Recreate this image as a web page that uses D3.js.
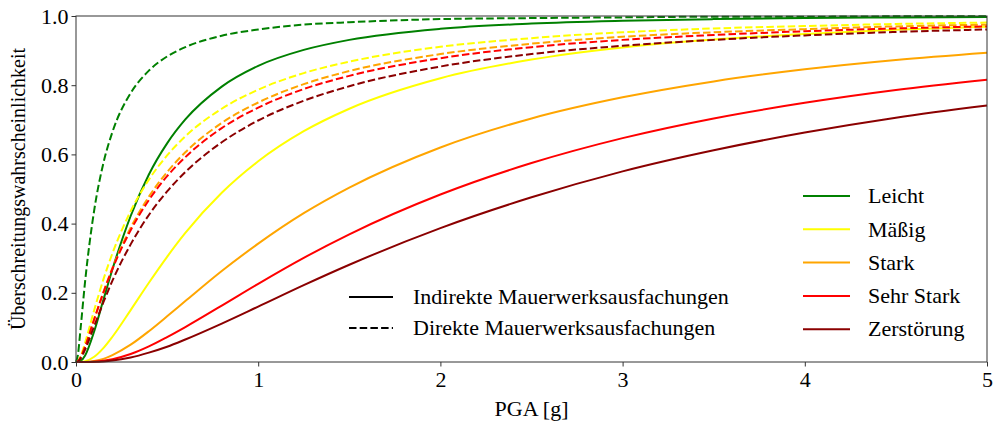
<!DOCTYPE html>
<html>
<head>
<meta charset="utf-8">
<script src="https://cdn.jsdelivr.net/npm/d3@7"></script>
<style>
  body { margin: 0; background: #fff; }
  svg { display: block; font-family: "Liberation Serif", "Times New Roman", serif; }
</style>
</head>
<body>
<div id="chart"></div>
<script>
// PGA values [g] at which the curves were read
var pga = [0, 0.01, 0.025, 0.05, 0.1, 0.15, 0.2, 0.3, 0.4, 0.5, 0.6, 0.8, 1, 1.25, 1.5, 2, 2.5, 3, 3.5, 4, 4.5, 5];

// Damage grades and colours
var grades = ['Leicht', 'Mäßig', 'Stark', 'Sehr Stark', 'Zerstörung'];
var colors = ['#008000', '#ffff00', '#ffa500', '#ff0000', '#8b0000'];

// Indirekte Mauerwerksausfachungen (solid)
var indLeicht = [0, 0.0001, 0.0026, 0.019, 0.089, 0.179, 0.268, 0.422, 0.542, 0.632, 0.701, 0.796, 0.856, 0.902, 0.931, 0.963, 0.978, 0.986, 0.991, 0.994, 0.996, 0.997];
var indMaessig = [0, 0, 0.0002, 0.002, 0.015, 0.040, 0.073, 0.150, 0.229, 0.304, 0.373, 0.489, 0.580, 0.667, 0.732, 0.820, 0.874, 0.909, 0.932, 0.948, 0.960, 0.969];
var indStark = [0, 0, 0, 0.0002, 0.003, 0.009, 0.020, 0.050, 0.089, 0.132, 0.176, 0.263, 0.342, 0.430, 0.504, 0.620, 0.704, 0.765, 0.811, 0.846, 0.873, 0.894];
var indSehrStark = [0, 0, 0, 0.0001, 0.001, 0.0035, 0.008, 0.023, 0.045, 0.072, 0.101, 0.163, 0.226, 0.301, 0.369, 0.484, 0.575, 0.647, 0.704, 0.749, 0.786, 0.816];
var indZerstoerung = [0, 0, 0, 0, 0.0004, 0.0017, 0.004, 0.013, 0.027, 0.044, 0.065, 0.111, 0.160, 0.222, 0.281, 0.387, 0.476, 0.551, 0.612, 0.663, 0.706, 0.741];

// Direkte Mauerwerksausfachungen (dashed)
var dirLeicht = [0, 0.019, 0.096, 0.233, 0.439, 0.574, 0.665, 0.777, 0.842, 0.883, 0.910, 0.943, 0.961, 0.975, 0.982, 0.991, 0.994, 0.996, 0.998, 0.998, 0.999, 0.999];
var dirMaessig = [0, 0.002, 0.016, 0.056, 0.150, 0.238, 0.314, 0.436, 0.527, 0.597, 0.652, 0.732, 0.787, 0.835, 0.868, 0.911, 0.936, 0.953, 0.964, 0.971, 0.977, 0.981];
var dirStark = [0, 0.0014, 0.012, 0.043, 0.123, 0.201, 0.272, 0.388, 0.478, 0.549, 0.606, 0.691, 0.750, 0.803, 0.841, 0.890, 0.920, 0.940, 0.953, 0.962, 0.970, 0.975];
var dirSehrStark = [0, 0.0017, 0.013, 0.045, 0.124, 0.200, 0.269, 0.381, 0.468, 0.537, 0.592, 0.676, 0.735, 0.789, 0.827, 0.878, 0.910, 0.931, 0.945, 0.956, 0.964, 0.970];
var dirZerstoerung = [0, 0.0012, 0.010, 0.036, 0.104, 0.172, 0.235, 0.340, 0.425, 0.493, 0.549, 0.635, 0.698, 0.755, 0.797, 0.854, 0.890, 0.914, 0.931, 0.944, 0.954, 0.961];

var xTicks = [0, 1, 2, 3, 4, 5];
var yTicks = [0, 0.2, 0.4, 0.6, 0.8, 1.0];
var styleLabels = ['Indirekte Mauerwerksausfachungen', 'Direkte Mauerwerksausfachungen'];

var indirect = [indLeicht, indMaessig, indStark, indSehrStark, indZerstoerung];
var direct = [dirLeicht, dirMaessig, dirStark, dirSehrStark, dirZerstoerung];

var width = 1001;
var height = 422;
var margin = { top: 16, right: 14, bottom: 60, left: 76 };
var innerWidth = width - margin.left - margin.right;
var innerHeight = height - margin.top - margin.bottom;
var fontSize = 22;
var dash = '7.5,3.2';

var svg = d3.select('#chart')
  .append('svg')
  .attr('width', width)
  .attr('height', height);

var g = svg.append('g')
  .attr('transform', 'translate(' + margin.left + ',' + margin.top + ')');

var x = d3.scaleLinear().domain([0, 5]).range([0, innerWidth]);
var y = d3.scaleLinear().domain([0, 1]).range([innerHeight, 0]);

var line = d3.line()
  .x(function (d) { return x(d[0]); })
  .y(function (d) { return y(d[1]); })
  .curve(d3.curveMonotoneX);

var clip = svg.append('defs').append('clipPath').attr('id', 'clip');
clip.append('rect').attr('x', -2).attr('y', -2).attr('width', innerWidth + 4).attr('height', innerHeight + 4);

var curves = g.append('g').attr('clip-path', 'url(#clip)');

// Solid curves first, then dashed ones on top
indirect.forEach(function (values, i) {
  curves.append('path')
    .datum(d3.zip(pga, values))
    .attr('fill', 'none')
    .attr('stroke', colors[i])
    .attr('stroke-width', 2)
    .attr('d', line);
});
direct.forEach(function (values, i) {
  curves.append('path')
    .datum(d3.zip(pga, values))
    .attr('fill', 'none')
    .attr('stroke', colors[i])
    .attr('stroke-width', 2)
    .attr('stroke-dasharray', dash)
    .attr('d', line);
});

// Axes
var xAxis = g.append('g')
  .attr('transform', 'translate(0,' + innerHeight + ')')
  .call(d3.axisBottom(x).tickValues(xTicks).tickFormat(d3.format('d')).tickSize(4.5).tickPadding(5));
var yAxis = g.append('g')
  .call(d3.axisLeft(y).tickValues(yTicks).tickFormat(d3.format('.1f')).tickSize(4.5).tickPadding(3));

[xAxis, yAxis].forEach(function (a) {
  a.attr('font-family', null).attr('font-size', null);
  a.selectAll('text')
    .attr('font-size', fontSize)
    .attr('fill', '#000');
  a.selectAll('line').attr('stroke', '#333');
  a.select('.domain').remove();
});

// Frame
g.append('rect')
  .attr('width', innerWidth)
  .attr('height', innerHeight)
  .attr('fill', 'none')
  .attr('stroke', '#333')
  .attr('stroke-width', 1);

// Axis labels
svg.append('text')
  .attr('x', margin.left + innerWidth / 2)
  .attr('y', 416)
  .attr('text-anchor', 'middle')
  .attr('font-size', fontSize)
  .text('PGA [g]');

svg.append('text')
  .attr('transform', 'translate(25,' + (margin.top + innerHeight / 2) + ') rotate(-90)')
  .attr('text-anchor', 'middle')
  .attr('font-size', 20)
  .text('Überschreitungswahrscheinlichkeit');

// Legend for line styles
var styleLegend = g.append('g').attr('transform', 'translate(273,281)');
styleLabels.forEach(function (label, i) {
  var row = styleLegend.append('g').attr('transform', 'translate(0,' + (i * 31) + ')');
  row.append('line')
    .attr('x1', 0).attr('x2', 44)
    .attr('stroke', '#000')
    .attr('stroke-width', 2)
    .attr('stroke-dasharray', i === 0 ? null : dash);
  row.append('text')
    .attr('x', 64)
    .attr('dy', '0.33em')
    .attr('font-size', fontSize)
    .text(label);
});

// Legend for damage grades
var gradeLegend = g.append('g').attr('transform', 'translate(727,180)');
grades.forEach(function (label, i) {
  var row = gradeLegend.append('g').attr('transform', 'translate(0,' + (i * 33.3) + ')');
  row.append('line')
    .attr('x1', 0).attr('x2', 47)
    .attr('stroke', colors[i])
    .attr('stroke-width', 2);
  row.append('text')
    .attr('x', 65)
    .attr('dy', '0.33em')
    .attr('font-size', fontSize)
    .text(label);
});
</script>
</body>
</html>
